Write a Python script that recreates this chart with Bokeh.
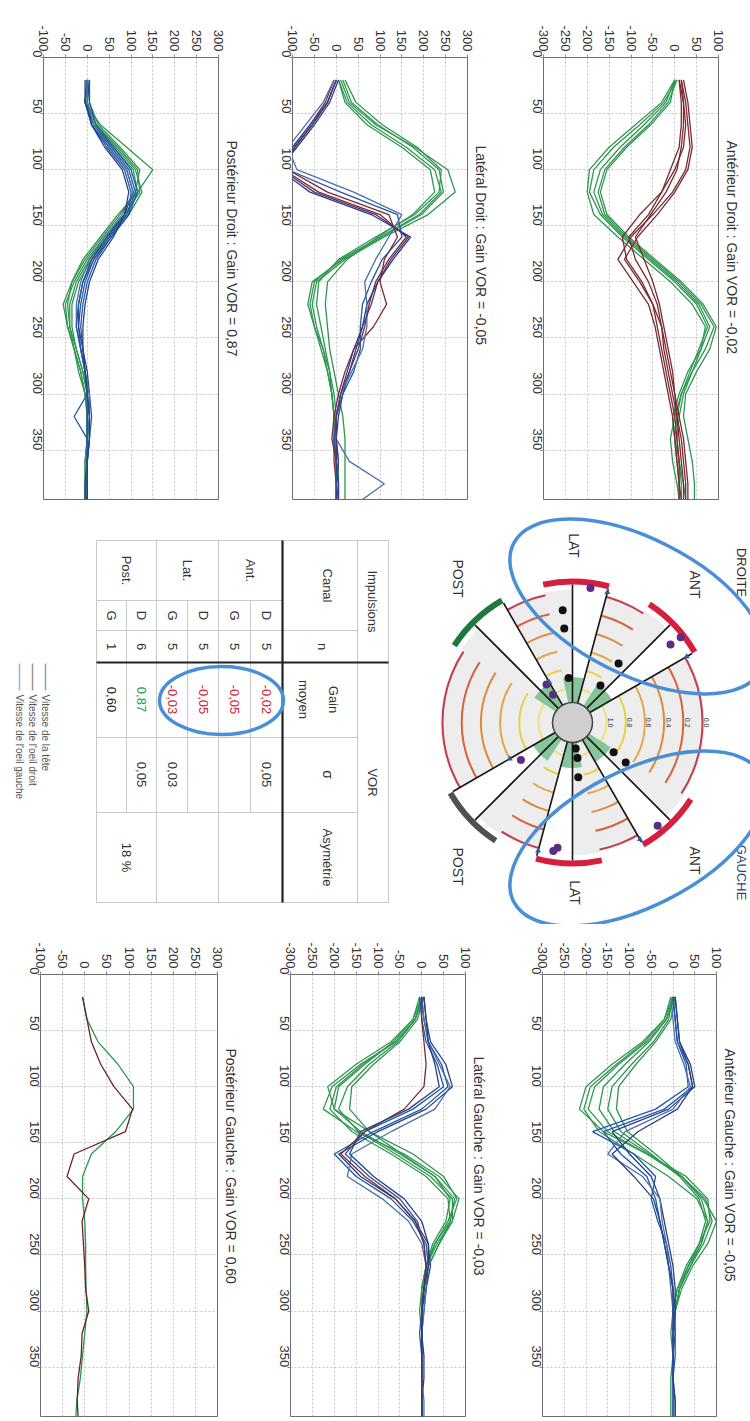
import math
from bokeh.plotting import figure
from bokeh.layouts import column, row
from bokeh.models import Range1d, FixedTicker, ColumnDataSource, AllLabels
from bokeh.core.properties import value
from bokeh.embed import file_html
from bokeh.resources import INLINE

FONT = "Liberation Sans"
HEAD = "#2f9650"
BROWN = "#7a2a32"
BLUE = "#1f58a8"
NAVY = "#2b3f82"
STEEL = "#4872a8"
PURPLE = "#4a3578"

# ---------------- trace data (time in ms, velocity in deg/s) ----------------
TIME = [20, 40, 60, 80, 100, 120, 140, 160, 180, 200, 220, 240, 260, 280, 300, 320, 340, 360, 380, 394]
TIME_TICKS = [0, 50, 100, 150, 200, 250, 300, 350]
V_TICKS_POS = [-100, -50, 0, 50, 100, 150, 200, 250, 300]
V_TICKS_NEG = [-300, -250, -200, -150, -100, -50, 0, 50, 100]

ant_d_head = [
    [0, -30, -90, -150, -195, -200, -185, -130, -70, -10, 40, 70, 60, 40, 20, 10, 5, 10, 15, 15],
    [5, -25, -80, -140, -185, -195, -170, -120, -60, 0, 50, 75, 55, 35, 15, 5, 0, 5, 10, 10],
    [0, -20, -70, -125, -170, -185, -165, -115, -55, 5, 55, 80, 60, 30, 10, -5, 0, 10, 20, 25],
    [5, -15, -60, -115, -160, -175, -160, -110, -50, 10, 60, 90, 70, 40, 15, 0, -10, -5, 5, 10],
    [0, -10, -55, -110, -155, -170, -155, -105, -45, 15, 65, 95, 80, 50, 25, 20, 30, 40, 45, 45],
]
ant_d_eye = [
    [10, 20, 25, 20, 0, -30, -80, -120, -110, -75, -50, -40, -30, -20, -10, 0, 5, 10, 10, 10],
    [15, 25, 30, 35, 25, -5, -50, -100, -130, -95, -60, -45, -35, -25, -15, -5, 0, 5, 10, 15],
    [10, 15, 15, 10, -10, -30, -60, -105, -90, -60, -40, -30, -20, -10, 0, 5, 10, 15, 20, 20],
    [20, 30, 35, 40, 30, 0, -40, -85, -115, -80, -50, -30, -25, -15, -5, 5, 15, 20, 25, 25],
    [15, 20, 20, 15, 5, -20, -55, -90, -70, -50, -35, -25, -15, -5, 0, 10, 20, 25, 30, 30],
]
ant_d_eye_col = [BROWN, BROWN, BROWN, BROWN, BROWN]

lat_d_head = [
    [10, 30, 90, 180, 255, 272, 210, 110, 20, -45, -55, -45, -30, -15, -5, 0, 0, 0, 0, 0],
    [5, 25, 80, 160, 225, 240, 190, 100, 10, -50, -60, -50, -35, -20, -10, -5, 0, 0, 5, 5],
    [15, 35, 95, 175, 235, 245, 195, 105, 15, -55, -65, -50, -30, -20, -10, -5, 0, 5, 5, 5],
    [20, 45, 105, 185, 240, 235, 180, 90, 5, -40, -45, -35, -25, -15, -10, -5, -5, 0, 0, 0],
    [5, 20, 70, 150, 215, 225, 175, 95, 25, -20, -25, -20, -15, -5, 5, 15, 20, 20, 20, 20],
]
lat_d_eye = [
    [0, -20, -55, -95, -120, -40, 100, 160, 120, 90, 75, 65, 50, 30, 10, 0, -5, -5, 0, 0],
    [-5, -25, -60, -100, -110, -20, 120, 140, 110, 100, 115, 85, 40, 20, 5, -5, -10, 0, 5, 5],
    [5, -15, -50, -90, -130, -60, 80, 170, 130, 95, 70, 60, 45, 30, 15, 5, 0, 5, 0, 0],
    [0, -20, -60, -100, -110, 10, 140, 150, 105, 80, 60, 55, 55, 40, 15, 0, -5, 0, 0, 5],
    [-5, -30, -70, -110, -90, 40, 150, 120, 90, 65, 70, 70, 60, 35, 10, 0, 0, 30, 110, 60],
    [0, -20, -55, -95, -125, -50, 90, 165, 125, 95, 80, 60, 40, 25, 10, 0, 0, 0, 5, 5],
]
lat_d_eye_col = [BROWN, BROWN, NAVY, BLUE, STEEL, PURPLE]

post_d_head = [
    [0, -5, 30, 90, 150, 115, 70, 30, -10, -35, -45, -40, -25, -10, 0, 0, 0, -5, -5, -5],
    [5, 0, 20, 70, 115, 120, 85, 40, 0, -30, -50, -45, -30, -15, -5, 0, 0, -5, -5, -5],
    [0, -5, 15, 60, 105, 115, 90, 45, 5, -25, -40, -40, -30, -15, -5, 0, 5, 0, 0, 0],
    [5, 5, 25, 75, 120, 110, 75, 35, -5, -35, -55, -45, -30, -20, -5, 5, 5, 0, 0, 0],
    [0, 0, 20, 65, 110, 125, 95, 50, 10, -20, -35, -35, -25, -10, 0, 0, 0, 0, -5, -5],
]
post_d_eye = [
    [0, -5, 15, 55, 95, 110, 90, 50, 15, -5, -15, -20, -15, -5, 5, 10, 5, 0, 0, 0],
    [5, 0, 10, 50, 90, 105, 85, 45, 10, -10, -20, -20, -10, 0, 5, 0, 0, 0, -5, -5],
    [0, -5, 10, 45, 85, 100, 95, 55, 20, 0, -10, -15, -10, -5, 0, -30, 0, 0, 0, 0],
    [0, 0, 15, 50, 90, 105, 80, 40, 5, -15, -25, -25, -15, -5, 5, 5, 0, 0, 0, 0],
    [5, 5, 20, 60, 100, 115, 95, 55, 15, -10, -20, -25, -15, -5, 0, 0, 0, 0, 0, 0],
    [-5, -5, 10, 40, 80, 95, 85, 60, 25, 5, -5, -10, -10, -5, 0, 5, 5, 0, 0, 0],
]
post_d_eye_col = [BLUE, NAVY, BLUE, STEEL, BLUE, NAVY]

ant_g_head = [
    [0, -20, -70, -140, -200, -215, -160, -60, 30, 80, 85, 60, 30, 10, 0, -5, 0, 0, 0, 0],
    [5, -15, -60, -125, -180, -195, -150, -60, 20, 75, 90, 70, 40, 15, 5, 0, 0, 0, 0, 0],
    [0, -15, -55, -110, -160, -170, -135, -55, 20, 65, 80, 65, 35, 15, 5, 0, 0, -5, -5, -5],
    [0, -10, -45, -95, -140, -150, -120, -50, 15, 60, 75, 60, 35, 10, 0, 0, 0, 0, 0, 0],
    [5, -5, -40, -85, -125, -130, -105, -40, 20, 70, 100, 80, 45, 20, 5, 0, 0, 0, 0, 0],
    [-5, -20, -65, -130, -190, -205, -170, -90, -10, 55, 80, 65, 40, 15, 5, 0, 0, 0, 0, 0],
]
ant_g_eye = [
    [0, 5, 10, 35, 45, -20, -160, -120, -60, -40, -30, -20, -10, 0, 5, 5, 0, 0, 5, 5],
    [5, 10, 15, 40, 50, -10, -140, -100, -50, -30, -20, -10, 0, 5, 5, 0, 0, 0, 0, 0],
    [0, 5, 10, 30, 35, -40, -185, -90, -40, -50, -35, -15, -5, 0, 0, 5, 5, 0, 0, 0],
    [-5, 0, 5, 25, 40, 0, -110, -150, -70, -30, -25, -15, -10, -5, 0, 0, 0, 0, 0, 0],
    [5, 10, 15, 35, 45, 10, -80, -140, -90, -45, -30, -20, -10, 0, 0, 0, 0, 0, 5, 5],
]
ant_g_eye_col = [BLUE, NAVY, BLUE, STEEL, NAVY]

lat_g_head = [
    [0, -20, -70, -150, -215, -200, -120, -20, 50, 80, 60, 30, 10, 0, 0, 0, 0, 0, 0, 0],
    [5, -15, -60, -140, -205, -225, -150, -40, 40, 85, 70, 35, 10, 0, -5, 0, 0, 0, 0, 0],
    [-5, -20, -65, -130, -190, -200, -140, -50, 30, 75, 65, 30, 10, 5, 0, 0, 0, 0, 0, 0],
    [0, -15, -55, -120, -170, -190, -145, -60, 20, 70, 70, 40, 15, 5, 0, 0, 0, 0, 0, 0],
    [5, -10, -50, -110, -160, -165, -120, -45, 30, 65, 55, 25, 10, 0, 0, 0, 0, 0, 0, 0],
    [0, -15, -60, -135, -195, -210, -160, -70, 10, 60, 65, 40, 15, 5, 0, 0, 0, 0, 0, 0],
]
lat_g_eye = [
    [0, 5, 15, 45, 60, 0, -110, -200, -150, -70, -20, 10, 15, 10, 5, 0, 0, 0, 0, 0],
    [5, 10, 20, 55, 70, 10, -100, -190, -140, -60, -15, 15, 20, 10, 0, 0, 5, 5, 0, 0],
    [-5, 0, 10, 35, 50, -20, -130, -175, -120, -50, -10, 5, 10, 5, 0, -5, 0, 0, 0, 0],
    [0, 5, 15, 40, 65, 30, -70, -160, -170, -90, -30, 0, 10, 10, 5, 0, 0, 0, 5, 5],
    [0, 0, 5, 10, 5, -40, -130, -185, -130, -60, -15, 5, 10, 5, 0, 0, 0, 0, 0, 0],
    [5, 10, 15, 30, 40, -30, -140, -165, -110, -40, 0, 15, 15, 5, 0, 0, 0, 0, 0, 0],
]
lat_g_eye_col = [BLUE, NAVY, BLUE, STEEL, BROWN, NAVY]

post_g_head = [
    [-5, 5, 30, 75, 110, 110, 70, 15, -5, -5, 0, 2, 2, 3, 5, 0, -5, -10, -18, -20],
]
post_g_eye = [
    [-5, 5, 15, 36, 66, 108, 92, -24, -40, 9, -6, -3, 0, 2, 9, -6, -8, -15, -17, -15],
]
post_g_eye_col = ["#6b2228"]

TITLES = {
    "ad": "Antérieur Droit : Gain VOR = -0,02",
    "ld": "Latéral Droit : Gain VOR = -0,05",
    "pd": "Postérieur Droit : Gain VOR = 0,87",
    "ag": "Antérieur Gauche : Gain VOR = -0,05",
    "lg": "Latéral Gauche : Gain VOR = -0,03",
    "pg": "Postérieur Gauche : Gain VOR = 0,60",
}


def trace_fig(title, vticks, head, eyes, eye_colors, left, fw, right, top, bottom, toff):
    p = figure(frame_width=fw, frame_height=442,
               x_range=Range1d(vticks[0], vticks[-1]), y_range=Range1d(394, 0),
               x_axis_location="above", title=title, title_location="right",
               output_backend="svg", toolbar_location=None,
               min_border_left=left, min_border_right=right,
               min_border_top=top, min_border_bottom=bottom)
    p.title.text_font = FONT
    p.title.text_font_size = "14px"
    p.title.text_font_style = "normal"
    p.title.text_color = "#333333"
    p.title.align = "left"
    p.title.offset = toff
    p.title.standoff = 10
    p.xaxis.ticker = FixedTicker(ticks=vticks)
    p.yaxis.ticker = FixedTicker(ticks=TIME_TICKS)
    p.xaxis.major_label_overrides = {float(v): str(v) for v in vticks}
    p.yaxis.major_label_overrides = {float(v): str(v) for v in TIME_TICKS}
    for ax in (p.xaxis[0], p.yaxis[0]):
        ax.major_label_policy = AllLabels()
        ax.major_label_orientation = -math.pi / 2
        ax.major_label_text_font = FONT
        ax.major_label_text_font_size = "13px"
        ax.major_label_text_color = "#333333"
        ax.axis_line_color = None
        ax.major_tick_out = 3
        ax.major_tick_in = 0
        ax.major_tick_line_color = "#888888"
        ax.minor_tick_line_color = None
        ax.major_label_standoff = 3
    for g in (p.xgrid[0], p.ygrid[0]):
        g.grid_line_color = "#c4c4c4"
        g.grid_line_dash = "2 2"
    p.outline_line_color = "#6e6e6e"
    xs = [list(tr) for tr in head] + [list(tr) for tr in eyes]
    ys = [TIME for _ in xs]
    cols = [HEAD] * len(head) + list(eye_colors)
    src = ColumnDataSource(dict(xs=xs, ys=ys, c=cols))
    p.multi_line(xs="xs", ys="ys", line_color="c", line_width=1.3, source=src)
    return p


f_pd = trace_fig(TITLES["pd"], V_TICKS_POS, post_d_head, post_d_eye, post_d_eye_col, 43, 175, 39, 57, 1, 83)
f_ld = trace_fig(TITLES["ld"], V_TICKS_POS, lat_d_head, lat_d_eye, lat_d_eye_col, 35, 175, 40, 57, 1, 88)
f_ad = trace_fig(TITLES["ad"], V_TICKS_NEG, ant_d_head, ant_d_eye, ant_d_eye_col, 36, 175, 32, 57, 1, 83)
f_pg = trace_fig(TITLES["pg"], V_TICKS_POS, post_g_head, post_g_eye, post_g_eye_col, 40, 177, 38, 50, 3, 74)
f_lg = trace_fig(TITLES["lg"], V_TICKS_NEG, lat_g_head, lat_g_eye, lat_g_eye_col, 35, 175, 42, 50, 3, 82)
f_ag = trace_fig(TITLES["ag"], V_TICKS_NEG, ant_g_head, ant_g_eye, ant_g_eye_col, 35, 174, 34, 50, 3, 74)

# ---------------- polar diagram + table (middle band) ----------------
CANAL_DIR = [0, 45, -45, 135, 180, 225]          # clockwise from page-up
CANAL_GAIN = [-0.05, -0.02, 0.87, -0.05, -0.03, 0.60]
CANAL_ARC_COLOR = ["#d4203c", "#d4203c", "#1d7a3c", "#d4203c", "#d4203c", "#505050"]
GAIN_LEVELS = [0.0, 0.2, 0.4, 0.6, 0.8, 1.0]
GAIN_LABELS = ["0.0", "0.2", "0.4", "0.6", "0.8", "1.0"]
LEVEL_COLORS = ["#c23b4e", "#d6623c", "#dc8a3e", "#e3a64a", "#e4d245", "#eee37a"]
IMPULSE_ANGLE = [-5, -5, -5, 37, 38, 126, 127, 173, 172, 174]
IMPULSE_GAIN = [0.18, 0.37, 0.89, 0.87, 0.575, 0.825, 0.66, 1.08, 0.98, 0.78]
MEAN_ANGLE = [7.6, 51.8, 51.5, -34.4, -35, 234, 140.5, 186.8, 188.5]
MEAN_GAIN = [-0.06, -0.08, 0.05, 0.875, 1.0, 0.69, -0.04, 0.04, 0.0]

TABLE_ROWS = ["D", "G", "D", "G", "D", "G"]
TABLE_GROUPS = ["Ant.", "Lat.", "Post."]
TABLE_N = ["5", "5", "5", "5", "6", "1"]
TABLE_GAIN = ["-0,02", "-0,05", "-0,05", "-0,03", "0,87", "0,60"]
TABLE_GAIN_COLOR = ["#d4203c", "#d4203c", "#d4203c", "#d4203c", "#2a9a4a", "#222222"]
TABLE_SIGMA = ["0,05", "", "", "0,03", "0,05", ""]
TABLE_ASYM = ["", "", "18 %"]
LEGEND_TEXT = ["Vitesse de la tête", "Vitesse de l'oeil droit", "Vitesse de l'oeil gauche"]
LEGEND_COLOR = ["#a0a0a0", "#a8908a", "#8fb8e0"]

CX, CY = 572, 722      # polar centre (page px)
R0, R1 = 130, 96       # radius at gain 0, radius per unit gain
RC = 20                # centre disc radius

mid = figure(width=750, height=424, x_range=Range1d(0, 750), y_range=Range1d(-924, -500),
             output_backend="svg", toolbar_location=None, min_border=0,
             x_axis_type=None, y_axis_type=None)
mid.outline_line_color = None
mid.grid.visible = False


def gr(g):
    return R0 - R1 * g


def pol(theta, r):
    t = math.radians(theta)
    return CX + r * math.sin(t), -CY + r * math.cos(t)


def span(a, b):
    return math.radians(90 - b), math.radians(90 - a)


def txt(x, y, s, size, color="#333333", align="center"):
    mid.text(x=[x], y=[-y], text=[s], angle=-math.pi / 2, text_font=value(FONT),
             text_font_size=value(size), text_color=color, text_align=align,
             text_baseline="middle")


mid.circle(x=[CX], y=[-CY], radius=132, fill_color="#ededed", line_color=None)
for g, c in zip(GAIN_LEVELS, LEVEL_COLORS):
    mid.circle(x=[CX], y=[-CY], radius=gr(g), fill_color=None, line_color=c, line_width=2)

for d in CANAL_DIR:
    s, e = span(d - 12, d)
    mid.annular_wedge(x=[CX], y=[-CY], inner_radius=RC, outer_radius=133, start_angle=s, end_angle=e,
                      fill_color="#ededed", line_color=None)
    s, e = span(d, d + 15)
    mid.annular_wedge(x=[CX], y=[-CY], inner_radius=RC, outer_radius=136, start_angle=s, end_angle=e,
                      fill_color="white", line_color=None)
for d in CANAL_DIR:
    s, e = span(d - 12, d + 15)
    mid.annular_wedge(x=[CX], y=[-CY], inner_radius=RC, outer_radius=gr(0.88), start_angle=s, end_angle=e,
                      fill_color="#86c49a", line_color=None)

lx0, ly0, lx1, ly1 = [], [], [], []
for d in CANAL_DIR:
    for a in (d, d + 15):
        x0, y0 = pol(a, RC)
        x1, y1 = pol(a, 138)
        lx0.append(x0); ly0.append(y0); lx1.append(x1); ly1.append(y1)
mid.segment(x0=lx0, y0=ly0, x1=lx1, y1=ly1, line_color="#151515", line_width=1.6)

for d, c in zip(CANAL_DIR, CANAL_ARC_COLOR):
    s, e = span(d - 12, d + 15)
    mid.arc(x=[CX], y=[-CY], radius=141, start_angle=s, end_angle=e, line_color=c, line_width=6)

mid.circle(x=[CX], y=[-CY], radius=RC, fill_color="#cfcfcf", line_color="#444444", line_width=1.5)

bx, by = zip(*[pol(a, gr(g)) for a, g in zip(IMPULSE_ANGLE, IMPULSE_GAIN)])
mid.scatter(x=list(bx), y=list(by), size=8, fill_color="#111111", line_color=None)
px_, py_ = zip(*[pol(a, gr(g)) for a, g in zip(MEAN_ANGLE, MEAN_GAIN)])
mid.scatter(x=list(px_), y=list(py_), size=8, fill_color="#5a2d86", line_color=None)
tx, ty = zip(*[pol(d + 15, gr(g)) for d, g in zip(CANAL_DIR, CANAL_GAIN)])
mid.scatter(x=list(tx), y=list(ty), size=6, marker="triangle", fill_color="#1f5fb0", line_color=None)

for g, lab in zip(GAIN_LEVELS, GAIN_LABELS):
    x, y = pol(90, gr(g) + 4)
    txt(x, -y, lab, "7px", "#333333")

txt(741, 572, "DROITE", "13px", "#3a2626")
txt(741, 872, "GAUCHE", "13px", "#2b4276")
txt(694, 584, "ANT", "14px")
txt(694, 860, "ANT", "14px")
txt(573, 545, "LAT", "14px")
txt(574, 892, "LAT", "14px")
txt(457, 578, "POST", "14px")
txt(457, 866, "POST", "14px")

# table
TX = [96, 126, 156, 187, 218, 250, 282, 357, 388]   # column borders (page x)
TY = [540, 600, 630, 662, 737, 812, 902]            # row borders (page y)
gx0, gy0, gx1, gy1 = [], [], [], []


def seg(x0, y0, x1, y1):
    gx0.append(x0); gy0.append(-y0); gx1.append(x1); gy1.append(-y1)


seg(TX[0], TY[0], TX[-1], TY[0]); seg(TX[0], TY[-1], TX[-1], TY[-1])
seg(TX[0], TY[0], TX[0], TY[-1]); seg(TX[-1], TY[0], TX[-1], TY[-1])
seg(TX[7], TY[0], TX[7], TY[-1])
for yy in (TY[2], TY[4], TY[5]):
    seg(TX[6], yy, TX[7], yy)
for yy in (TY[1], TY[2], TY[4], TY[5]):
    seg(TX[0], yy, TX[6], yy)
for xx in (TX[1], TX[3], TX[5]):
    seg(xx, TY[1], xx, TY[5])
for xx in (TX[2], TX[4]):
    seg(xx, TY[0], xx, TY[-1])
mid.segment(x0=gx0, y0=gy0, x1=gx1, y1=gy1, line_color="#c8c8c8", line_width=1)
mid.segment(x0=[TX[6], TX[0]], y0=[-TY[0], -TY[3]], x1=[TX[6], TX[-1]], y1=[-TY[-1], -TY[3]],
            line_color="#222222", line_width=2.2)

txt(372, 601, "Impulsions", "13px")
txt(372, 782, "VOR", "13px")
txt(327, 585, "Canal", "13px")
txt(322, 646, "n", "13px")
txt(333, 699, "Gain", "13px")
txt(303, 699, "moyen", "13px")
txt(327, 774, "σ", "14px")
txt(327, 857, "Asymétrie", "13px")
row_cx = [(TX[i] + TX[i + 1]) / 2 for i in range(6)][::-1]
for i in range(6):
    x = row_cx[i]
    txt(x, 615, TABLE_ROWS[i], "13px")
    txt(x, 646, TABLE_N[i], "13px")
    txt(x, 699, TABLE_GAIN[i], "13px", TABLE_GAIN_COLOR[i])
    if TABLE_SIGMA[i]:
        txt(x, 774, TABLE_SIGMA[i], "13px")
grp_cx = [(TX[4] + TX[6]) / 2, (TX[2] + TX[4]) / 2, (TX[0] + TX[2]) / 2]
for i in range(3):
    txt(grp_cx[i], 570, TABLE_GROUPS[i], "13px")
    if TABLE_ASYM[i]:
        txt(grp_cx[i], 857, TABLE_ASYM[i], "13px")

# highlight ellipses
mid.ellipse(x=[637, 637, 221], y=[-606, -838, -700], width=[278, 278, 124], height=[136, 136, 68],
            angle=[math.radians(-27), math.radians(27), 0], fill_color=None,
            line_color="#4a8fd6", line_width=3.5)

# legend
for i, (lab, c) in enumerate(zip(LEGEND_TEXT, LEGEND_COLOR)):
    x = 45 - 13 * i
    mid.segment(x0=[x], y0=[-663], x1=[x], y1=[-690], line_color=c, line_width=1.5)
    txt(x, 694, lab, "10px", "#555555", align="left")

layout = column(row(f_pd, f_ld, f_ad), mid, row(f_pg, f_lg, f_ag))
open("out.html", "w").write(file_html(layout, INLINE))
